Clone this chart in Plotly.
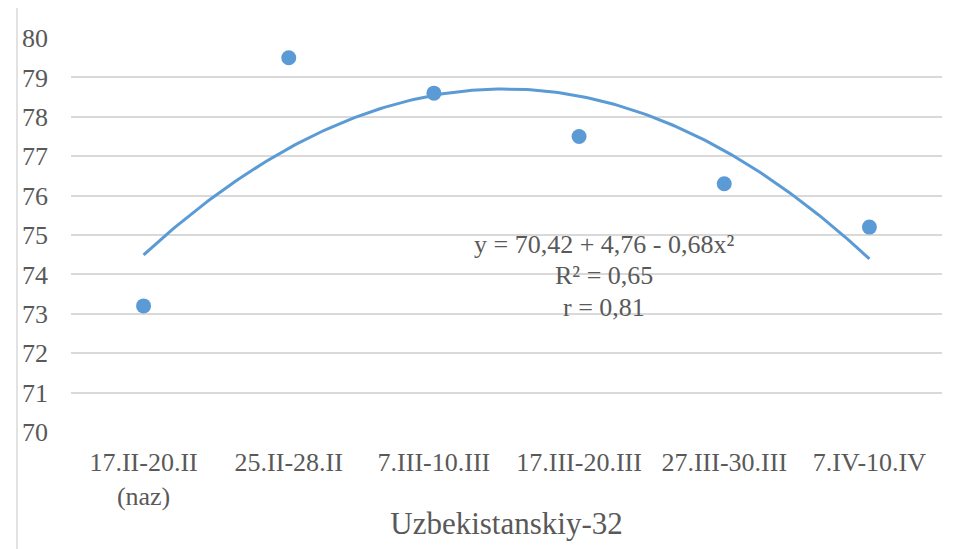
import numpy as np
import plotly.graph_objects as go

categories = ["17.II-20.II<br>(naz)", "25.II-28.II", "7.III-10.III", "17.III-20.III", "27.III-30.III", "7.IV-10.IV"]
values = [73.2, 79.5, 78.6, 77.5, 76.3, 75.2]
y_ticks = [70, 71, 72, 73, 74, 75, 76, 77, 78, 79, 80]
axis_title = "Uzbekistanskiy-32"
equation_lines = ["y = 70,42 + 4,76 - 0,68x²", "R² = 0,65", "r = 0,81"]
equation_y = [74.75, 73.97, 73.17]

idx = np.arange(1, len(values) + 1)
coef = np.polyfit(idx, values, 2)
xs = np.linspace(1, len(values), 200)
ys = np.polyval(coef, xs)

color = "#5B9BD5"
font = "Liberation Serif"
grey = "#595959"

# page body has an 8px margin; plot area target: x 71..942, y 38..432
W, H = 970, 541
L, T = 63, 30
R = W - (942 - 8)
B = H - (432 - 8)
pw, ph = 942 - 71, 432 - 38

fig = go.Figure()
fig.add_trace(go.Scatter(x=xs - 1, y=ys, mode="lines", line=dict(color=color, width=3),
                         hoverinfo="skip", showlegend=False, xaxis="x2"))
fig.add_trace(go.Scatter(x=categories, y=values, mode="markers",
                         marker=dict(color=color, size=15), showlegend=False))

annotations = [dict(x=(604 - 71) / pw, y=yy, xref="paper", yref="y", text=t, showarrow=False,
                    align="center", font=dict(size=26, family=font, color=grey))
               for t, yy in zip(equation_lines, equation_y)]

fig.update_layout(
    width=W, height=H,
    margin=dict(l=L, r=R, t=T, b=B),
    paper_bgcolor="white", plot_bgcolor="white",
    font=dict(family=font, color=grey),
    xaxis=dict(type="category", range=[-0.5, 5.5], showgrid=False, zeroline=False,
               showline=False, ticks="", ticklabelstandoff=12,
               tickfont=dict(size=26, family=font, color=grey),
               title=dict(text=axis_title, font=dict(size=31, family=font, color=grey), standoff=2)),
    xaxis2=dict(overlaying="x", range=[-0.5, 5.5], visible=False),
    yaxis=dict(range=[70, 80], tickvals=y_ticks, showgrid=True, gridcolor="#d9d9d9", gridwidth=1.5,
               zeroline=False, showline=False, ticks="", ticklabelstandoff=22,
               tickfont=dict(size=26, family=font, color=grey)),
    annotations=annotations,
    shapes=[dict(type="rect", xref="paper", yref="paper", x0=(17 - 71) / pw, x1=(977 - 71) / pw,
                 y0=-(560 - 432) / ph, y1=(432 - 7) / ph, line=dict(color="#d9d9d9", width=1.5),
                 fillcolor="rgba(0,0,0,0)", layer="below")],
)

fig.write_html("out.html")
